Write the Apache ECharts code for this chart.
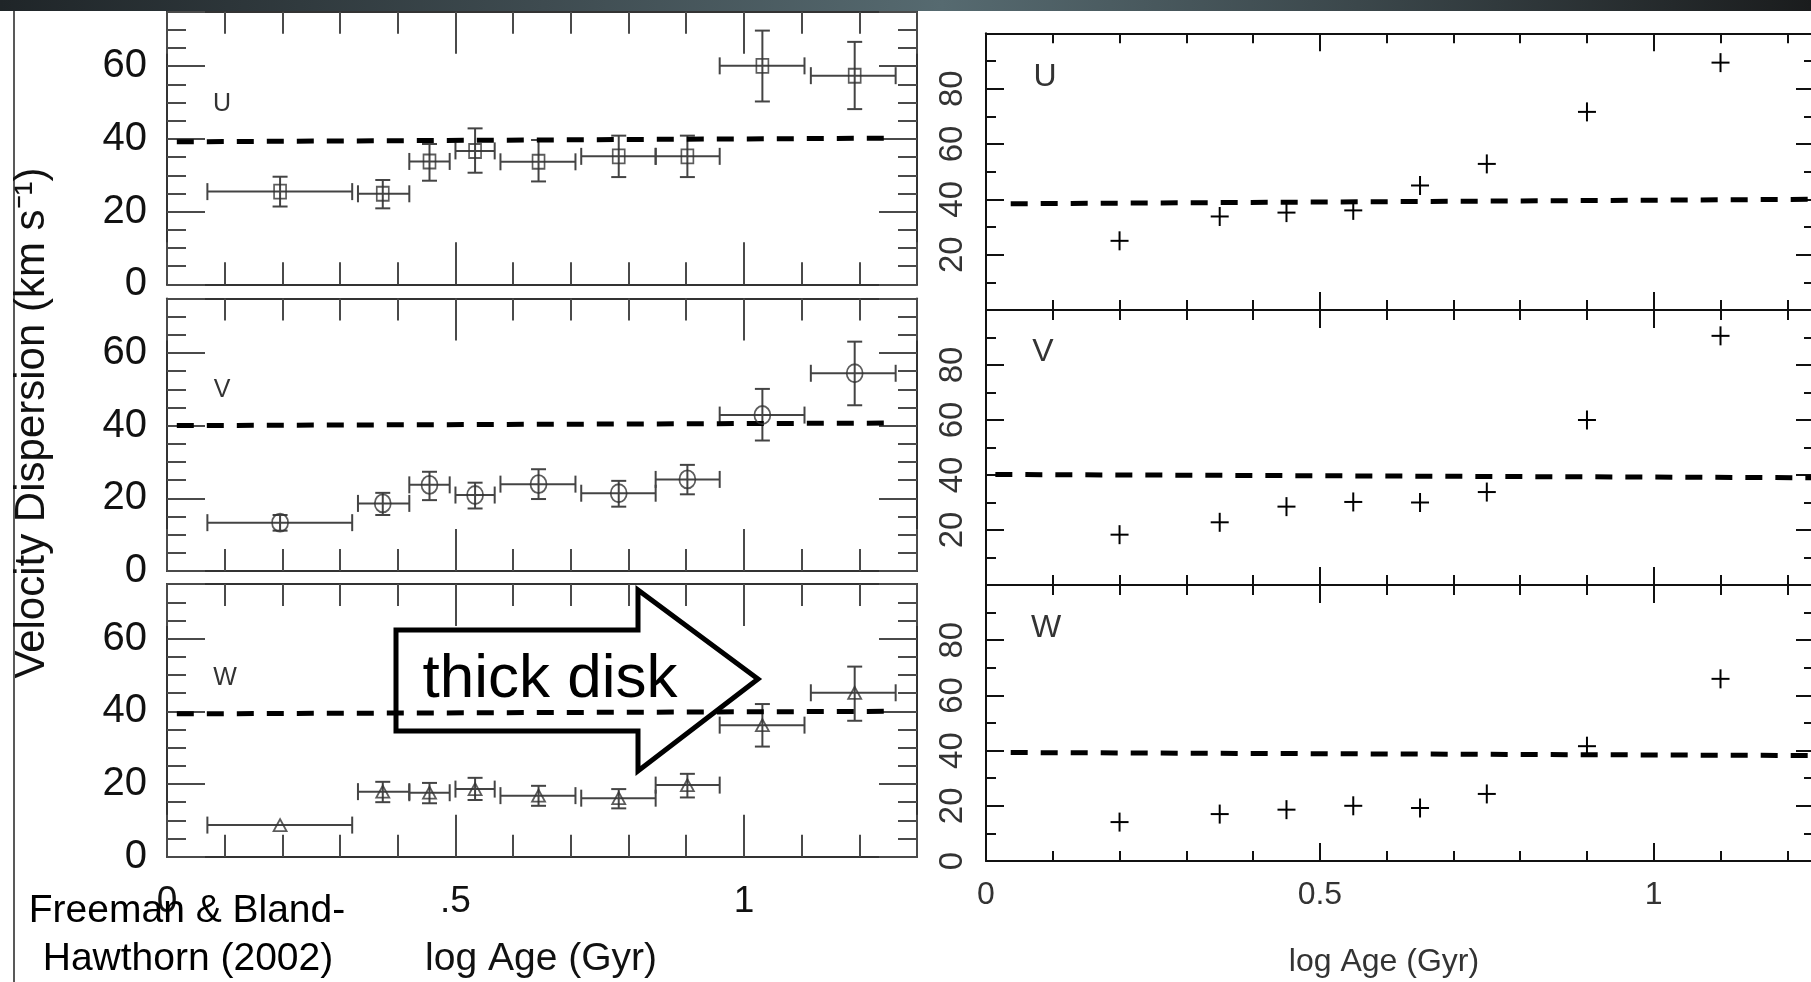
<!DOCTYPE html>
<html><head><meta charset="utf-8">
<script src="https://cdn.jsdelivr.net/npm/echarts@6/dist/echarts.min.js"></script>
<style>html,body{margin:0;padding:0;background:#fff}#c{width:1811px;height:982px}</style>
</head><body><div id="c"></div>
<script>
// ---------------- data ----------------
// Left: Freeman & Bland-Hawthorn (2002) binned dispersions with error bars
const leftAge   = [0.196, 0.374, 0.455, 0.534, 0.644, 0.783, 0.902, 1.032, 1.192];
const leftAgeLo = [0.070, 0.331, 0.420, 0.500, 0.578, 0.718, 0.847, 0.958, 1.116];
const leftAgeHi = [0.321, 0.420, 0.490, 0.568, 0.708, 0.847, 0.958, 1.105, 1.263];

const leftU   = [25.5, 24.9, 33.8, 36.7, 33.7, 35.2, 35.2, 60.1, 57.4];
const leftULo = [21.4, 20.9, 28.5, 30.7, 28.3, 29.5, 29.5, 50.3, 48.2];
const leftUHi = [29.6, 28.7, 38.6, 42.9, 39.7, 40.9, 40.9, 69.8, 66.7];

const leftV   = [13.3, 18.6, 23.7, 20.9, 23.9, 21.4, 25.2, 42.9, 54.4];
const leftVLo = [11.1, 15.4, 19.5, 17.2, 19.8, 17.7, 21.1, 35.9, 45.6];
const leftVHi = [15.4, 21.5, 27.3, 24.3, 28.0, 24.8, 29.2, 50.1, 63.1];

const leftW   = [8.7, 17.9, 17.6, 18.6, 16.8, 16.1, 19.7, 36.2, 45.1];
const leftWLo = [8.7, 15.0, 14.7, 15.6, 14.0, 13.3, 16.3, 30.3, 37.4];
const leftWHi = [8.7, 20.6, 20.3, 21.7, 19.5, 18.6, 22.8, 42.0, 52.3];

// Right: simulation points
const rightAge = [0.2, 0.35, 0.45, 0.55, 0.65, 0.75, 0.9, 1.1];
const rightU = [25.0, 33.8, 35.2, 36.0, 45.0, 52.8, 71.6, 89.4];
const rightV = [18.3, 22.8, 28.5, 30.2, 30.0, 33.8, 60.0, 90.6];
const rightW = [14.1, 17.0, 18.6, 20.0, 19.2, 24.3, 41.6, 66.0];

// dashed reference lines: [start, end]
const leftRefAge  = [0.017, 1.245];
const leftRefU    = [39.2, 40.2];
const leftRefV    = [40.0, 40.7];
const leftRefW    = [39.3, 40.0];
const rightRefAgeU = [0.037, 1.24];
const rightRefAgeV = [0.014, 1.24];
const rightRefAgeW = [0.037, 1.24];
const rightRefU   = [38.4, 40.0];
const rightRefV   = [40.2, 39.0];
const rightRefW   = [39.3, 38.2];

// tick labels
const leftXTicks  = [0, 0.5, 1];
const leftXLabels = ['0', '.5', '1'];
const rightXTicks  = [0, 0.5, 1];
const rightXLabels = ['0', '0.5', '1'];
const leftYTicks  = [0, 20, 40, 60];
const rightYTicks = [20, 40, 60, 80];
const rightYTicksW = [0, 20, 40, 60, 80];
const panelNames = ['U', 'V', 'W'];

// ---------------- chart ----------------
const FONT = '"Liberation Sans", Arial, Helvetica, sans-serif';
const chart = echarts.init(document.getElementById('c'));

function pick(ticks, labels) {
  return v => { const i = ticks.findIndex(t => Math.abs(t - v) < 1e-6); return i >= 0 ? (labels ? labels[i] : String(ticks[i])) : ''; };
}

const grids = [
  {left: 167, top: 11.7, width: 750, height: 272.6},
  {left: 167, top: 298.4, width: 750, height: 272.6},
  {left: 167, top: 584.1, width: 750, height: 272.6},
  {left: 986, top: 33.3, width: 828, height: 276.7},
  {left: 986, top: 310, width: 828, height: 275},
  {left: 986, top: 585, width: 828, height: 276}
].map(g => Object.assign(g, {outerBoundsMode: 'none', containLabel: false}));

function makeX(gi, side) {
  const left = gi < 3;
  const col = left ? '#4a4a4a' : '#111';
  const showLab = side === 'bottom' && (gi === 2 || gi === 5);
  return {
    type: 'value', gridIndex: gi, position: side, min: 0, max: left ? 1.3 : 1.24, interval: 0.5,
    splitLine: {show: false},
    axisLine: {show: true, onZero: false, lineStyle: {color: left ? '#333' : '#111', width: 2}},
    axisTick: {show: true, inside: true, length: left ? 42 : 18, lineStyle: {color: col, width: 2}},
    minorTick: {show: true, splitNumber: 5, length: left ? 22 : 10, lineStyle: {color: col, width: 2}},
    axisLabel: showLab ? {
      show: true, margin: left ? 27 : 18, fontSize: left ? 37 : 32, color: left ? '#111' : '#333',
      fontFamily: FONT, formatter: left ? pick(leftXTicks, leftXLabels) : pick(rightXTicks, rightXLabels)
    } : {show: false}
  };
}
function makeY(gi, side) {
  const left = gi < 3;
  const col = left ? '#4a4a4a' : '#111';
  const showLab = side === 'left';
  let lab = {show: false};
  if (showLab && left) {
    lab = {show: true, margin: 20, fontSize: 40, color: '#111', fontFamily: FONT, formatter: pick(leftYTicks)};
  } else if (showLab) {
    lab = {show: true, margin: 17, fontSize: 33, color: '#333', fontFamily: FONT, rotate: 90,
           formatter: pick(gi === 5 ? rightYTicksW : rightYTicks)};
  }
  return {
    type: 'value', gridIndex: gi, position: side, min: 0, max: left ? 75 : 100, interval: 20,
    splitLine: {show: false},
    axisLine: {show: true, onZero: false, lineStyle: {color: left ? '#333' : '#111', width: 2}},
    axisTick: {show: true, inside: true, length: left ? 38 : 18, lineStyle: {color: col, width: 2}},
    minorTick: {show: true, splitNumber: left ? 4 : 2, length: left ? 19 : 10, lineStyle: {color: col, width: 2}},
    axisLabel: lab
  };
}

const xAxis = [], yAxis = [];
for (let g = 0; g < 6; g++) {
  xAxis.push(makeX(g, 'bottom')); xAxis.push(makeX(g, 'top'));
  yAxis.push(makeY(g, 'left'));   yAxis.push(makeY(g, 'right'));
}

function renderErr(params, api) {
  const x = api.value(0), y = api.value(1), xl = api.value(2), xh = api.value(3), yl = api.value(4), yh = api.value(5);
  const c = api.coord([x, y]), a = api.coord([xl, y]), b = api.coord([xh, y]);
  const lo = api.coord([x, yl]), hi = api.coord([x, yh]);
  const st = {stroke: '#444', lineWidth: 2};
  const ch = 8.5, cw = 7.5;
  const kids = [
    {type: 'line', shape: {x1: a[0], y1: c[1], x2: b[0], y2: c[1]}, style: st},
    {type: 'line', shape: {x1: a[0], y1: c[1] - ch, x2: a[0], y2: c[1] + ch}, style: st},
    {type: 'line', shape: {x1: b[0], y1: c[1] - ch, x2: b[0], y2: c[1] + ch}, style: st}
  ];
  if (yh > yl) {
    kids.push(
      {type: 'line', shape: {x1: c[0], y1: lo[1], x2: c[0], y2: hi[1]}, style: st},
      {type: 'line', shape: {x1: c[0] - cw, y1: lo[1], x2: c[0] + cw, y2: lo[1]}, style: st},
      {type: 'line', shape: {x1: c[0] - cw, y1: hi[1], x2: c[0] + cw, y2: hi[1]}, style: st}
    );
  }
  return {type: 'group', children: kids};
}
function renderCross(params, api) {
  const c = api.coord([api.value(0), api.value(1)]);
  const st = {stroke: '#000', lineWidth: 2};
  return {type: 'group', children: [
    {type: 'line', shape: {x1: c[0] - 9, y1: c[1], x2: c[0] + 9, y2: c[1]}, style: st},
    {type: 'line', shape: {x1: c[0], y1: c[1] - 9.5, x2: c[0], y2: c[1] + 9.5}, style: st}
  ]};
}

function dashed(gi, xs, ys) {
  return {type: 'line', xAxisIndex: 2 * gi, yAxisIndex: 2 * gi, data: xs.map((x, i) => [x, ys[i]]),
    symbol: 'none', silent: true, z: 3,
    lineStyle: {color: '#000', width: 5, type: [17, 13]}};
}
function errSeries(gi, ys, lo, hi) {
  return {type: 'custom', xAxisIndex: 2 * gi, yAxisIndex: 2 * gi, renderItem: renderErr, z: 2,
    encode: {x: 0, y: 1},
    data: leftAge.map((x, i) => [x, ys[i], leftAgeLo[i], leftAgeHi[i], lo[i], hi[i]])};
}
function markers(gi, ys, symbol, size) {
  return {type: 'scatter', xAxisIndex: 2 * gi, yAxisIndex: 2 * gi, symbol: symbol, symbolSize: size, z: 4,
    itemStyle: {color: 'rgba(0,0,0,0)', borderColor: '#333', borderWidth: 1.8},
    data: leftAge.map((x, i) => [x, ys[i]])};
}
function crosses(gi, ys) {
  return {type: 'custom', xAxisIndex: 2 * gi, yAxisIndex: 2 * gi, renderItem: renderCross, z: 4,
    encode: {x: 0, y: 1}, data: rightAge.map((x, i) => [x, ys[i]])};
}

const series = [
  dashed(0, leftRefAge, leftRefU), errSeries(0, leftU, leftULo, leftUHi), markers(0, leftU, 'rect', [12, 14]),
  dashed(1, leftRefAge, leftRefV), errSeries(1, leftV, leftVLo, leftVHi), markers(1, leftV, 'circle', [16, 18]),
  dashed(2, leftRefAge, leftRefW), errSeries(2, leftW, leftWLo, leftWHi), markers(2, leftW, 'triangle', [13, 12]),
  dashed(3, rightRefAgeU, rightRefU), crosses(3, rightU),
  dashed(4, rightRefAgeV, rightRefV), crosses(4, rightV),
  dashed(5, rightRefAgeW, rightRefW), crosses(5, rightW)
];

function txt(x, y, text, size, opts) {
  return Object.assign({type: 'text', x: x, y: y, z: 50, silent: true,
    style: Object.assign({text: text, fontSize: size, fontFamily: FONT, fill: '#111',
      align: 'center', verticalAlign: 'middle'}, (opts && opts.style) || {})},
    (opts && opts.el) || {});
}

const graphic = [
  {type: 'rect', z: 100, silent: true, shape: {x: 0, y: 0, width: 1811, height: 11},
   style: {fill: {type: 'linear', x: 0, y: 0, x2: 1, y2: 0, colorStops: [
     {offset: 0, color: '#1f2528'}, {offset: 0.3, color: '#3e4b50'}, {offset: 0.52, color: '#566a70'},
     {offset: 0.75, color: '#3b474b'}, {offset: 1, color: '#1a1c1d'}]}}},
  {type: 'line', z: 50, silent: true, shape: {x1: 14, y1: 11, x2: 14, y2: 982}, style: {stroke: '#222', lineWidth: 1.5}},
  txt(32, 423, 'Velocity Dispersion (km s\u207B\u00B9)', 42, {el: {rotation: Math.PI / 2}}),
  txt(222, 104, panelNames[0], 25, {style: {fill: '#333'}}),
  txt(222, 390, panelNames[1], 25, {style: {fill: '#333'}}),
  txt(225, 678, panelNames[2], 25, {style: {fill: '#333'}}),
  txt(1045, 77, panelNames[0], 32, {style: {fill: '#333'}}),
  txt(1043, 352, panelNames[1], 32, {style: {fill: '#333'}}),
  txt(1046, 628, panelNames[2], 32, {style: {fill: '#333'}}),
  {type: 'polygon', z: 40, silent: true,
   shape: {points: [[396, 630], [638, 630], [638, 590], [758, 679], [638, 771], [638, 731], [396, 731]]},
   style: {fill: null, stroke: '#000', lineWidth: 5, lineJoin: 'miter'}},
  txt(550, 680, 'thick disk', 62, {style: {fill: '#000'}}),
  txt(187, 911, 'Freeman & Bland-', 39, {style: {fill: '#000'}}),
  txt(188, 959, 'Hawthorn (2002)', 39, {style: {fill: '#000'}}),
  txt(541, 959, 'log Age (Gyr)', 39, {style: {fill: '#111'}}),
  txt(1384, 962, 'log Age (Gyr)', 32, {style: {fill: '#333'}})
];

chart.setOption({
  animation: false,
  backgroundColor: '#fff',
  grid: grids,
  xAxis: xAxis,
  yAxis: yAxis,
  series: series,
  graphic: graphic
});
</script></body></html>
